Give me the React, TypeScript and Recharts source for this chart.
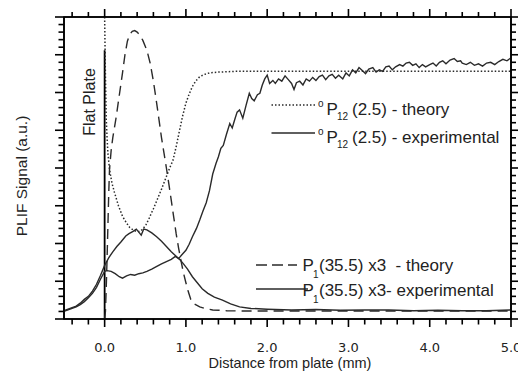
import React from 'react';
import { LineChart, Line, XAxis, YAxis, ReferenceLine, ReferenceArea } from 'recharts';

// ---------- data (x in mm, y in arbitrary units 0..40) ----------
const X_TICKS = [-0.4, -0.2, 0, 0.2, 0.4, 0.6, 0.8, 1, 1.2, 1.4, 1.6, 1.8, 2, 2.2, 2.4, 2.6, 2.8, 3, 3.2, 3.4, 3.6, 3.8, 4, 4.2, 4.4, 4.6, 4.8, 5];
const X_LABELS = ['0.0', '1.0', '2.0', '3.0', '4.0', '5.0'];
const Y_TICKS = [0, 1, 2, 3, 4, 5, 6, 7, 8, 9, 10, 11, 12, 13, 14, 15, 16, 17, 18, 19, 20, 21, 22, 23, 24, 25, 26, 27, 28, 29, 30, 31, 32, 33, 34, 35, 36, 37, 38, 39, 40];

const OP12_THEORY: [number, number][] = [
  [0, 40], [0.005, 36], [0.01, 32], [0.02, 26.5], [0.03, 24], [0.04, 22], [0.06, 19.8], [0.09, 18], [0.12, 16.8],
  [0.17, 15], [0.22, 13.6], [0.27, 12.7], [0.31, 12.1], [0.35, 11.8], [0.39, 11.6], [0.43, 11.6], [0.47, 11.9],
  [0.51, 12.5], [0.55, 13.4], [0.6, 14.6], [0.65, 15.9], [0.7, 17.2], [0.75, 18.6], [0.8, 20.0], [0.84, 21.0],
  [0.88, 22.8], [0.92, 24.9], [0.96, 26.9], [1.0, 28.6], [1.04, 29.8], [1.08, 30.8], [1.12, 31.5], [1.17, 32.1],
  [1.23, 32.4], [1.29, 32.6], [1.4, 32.7], [1.6, 32.8], [5.0, 32.8],
];

const OP12_EXP: [number, number][] = [
  [-0.5, 1.0], [-0.45, 1.2], [-0.4, 1.4], [-0.35, 1.6], [-0.3, 1.9], [-0.25, 2.3], [-0.2, 2.8], [-0.15, 3.4],
  [-0.1, 4.2], [-0.05, 5.3], [0, 6.3], [0.03, 6.4], [0.08, 6.3], [0.13, 6.0], [0.18, 5.6], [0.22, 5.4], [0.27, 5.7],
  [0.32, 5.9], [0.37, 5.8], [0.42, 6.0], [0.47, 6.1], [0.52, 6.3], [0.58, 6.6], [0.63, 6.9], [0.7, 7.3], [0.76, 7.6],
  [0.82, 7.9], [0.87, 8.3], [0.91, 8.0], [0.95, 8.5], [1.0, 9.1], [1.04, 9.9], [1.08, 10.9], [1.13, 12.0],
  [1.17, 13.1], [1.21, 14.3], [1.25, 15.4], [1.29, 17.0], [1.33, 19.2], [1.37, 20.6], [1.4, 21.5], [1.43, 22.6],
  [1.46, 23.0], [1.5, 24.5], [1.54, 25.9], [1.57, 25.3], [1.6, 26.4], [1.63, 27.4], [1.66, 27.7], [1.7, 26.6],
  [1.74, 28.3], [1.78, 29.9], [1.81, 29.2], [1.84, 28.9], [1.88, 29.7], [1.91, 29.9], [1.94, 31.0], [1.97, 31.8],
  [2.0, 32.3], [2.03, 31.2], [2.07, 31.6], [2.1, 31.2], [2.14, 31.8], [2.18, 31.5], [2.22, 32.2], [2.26, 31.7],
  [2.3, 31.2], [2.33, 30.4], [2.36, 31.3], [2.4, 31.5], [2.44, 31.0], [2.48, 31.8], [2.52, 31.5], [2.56, 32.0],
  [2.6, 31.6], [2.64, 32.1], [2.68, 32.3], [2.72, 31.7], [2.76, 32.2], [2.8, 32.4], [2.84, 31.9], [2.88, 32.3],
  [2.93, 31.8], [2.97, 32.6], [3.01, 32.2], [3.05, 33.0], [3.09, 32.6], [3.13, 33.3], [3.17, 32.9], [3.21, 32.5],
  [3.25, 33.1], [3.3, 33.3], [3.34, 32.7], [3.38, 33.0], [3.42, 32.8], [3.46, 33.4], [3.5, 33.5], [3.54, 33.0],
  [3.58, 33.4], [3.63, 33.7], [3.67, 33.5], [3.71, 33.9], [3.75, 34.0], [3.79, 33.6], [3.83, 33.8], [3.87, 33.3],
  [3.91, 33.7], [3.95, 33.4], [4.0, 33.7], [4.04, 33.9], [4.08, 33.5], [4.12, 34.0], [4.16, 34.2], [4.2, 33.8],
  [4.25, 34.3], [4.3, 34.5], [4.34, 34.1], [4.38, 34.2], [4.4, 33.9], [4.45, 33.7], [4.5, 34.0], [4.55, 33.6],
  [4.6, 33.8], [4.65, 33.5], [4.7, 33.9], [4.75, 34.0], [4.8, 33.7], [4.85, 34.1], [4.9, 34.4], [4.95, 34.2], [5.0, 34.6],
];

const P1_THEORY: [number, number][] = [
  [0, 0], [0.01, 1.0], [0.02, 4.2], [0.03, 8.0], [0.04, 12.2], [0.05, 16.5], [0.06, 19.8], [0.08, 22.3], [0.1, 24.0],
  [0.14, 26.6], [0.18, 29.6], [0.22, 32.6], [0.25, 35.0], [0.28, 36.8], [0.31, 37.7], [0.34, 38.1], [0.37, 38.2],
  [0.4, 38.0], [0.44, 37.5], [0.47, 36.9], [0.52, 35.6], [0.56, 33.9], [0.6, 31.5], [0.64, 28.6], [0.67, 26.3],
  [0.7, 24.0], [0.73, 22.0], [0.76, 20.0], [0.79, 17.9], [0.82, 15.7], [0.85, 13.5], [0.88, 11.3], [0.91, 9.4],
  [0.94, 7.7], [0.97, 6.1], [1.0, 4.8], [1.03, 3.6], [1.06, 2.6], [1.1, 2.0], [1.17, 1.6], [1.25, 1.35], [1.33, 1.2],
  [1.5, 1.1], [1.7, 1.05], [5.0, 1.05],
];

const P1_EXP: [number, number][] = [
  [-0.5, 1.1], [-0.45, 1.3], [-0.4, 1.5], [-0.35, 1.7], [-0.3, 2.1], [-0.25, 2.6], [-0.2, 3.0], [-0.15, 3.7],
  [-0.1, 4.6], [-0.05, 5.8], [0, 7.1], [0.05, 8.1], [0.1, 8.9], [0.15, 9.6], [0.2, 10.2], [0.26, 11.0], [0.3, 11.3],
  [0.35, 11.6], [0.39, 11.9], [0.42, 11.5], [0.45, 11.1], [0.48, 11.9], [0.52, 11.8], [0.58, 11.4], [0.64, 10.9],
  [0.7, 10.3], [0.76, 9.6], [0.82, 8.9], [0.88, 8.3], [0.93, 7.8], [0.97, 7.3], [1.02, 6.6], [1.08, 5.6], [1.14, 4.8],
  [1.2, 4.0], [1.27, 3.4], [1.35, 2.9], [1.45, 2.5], [1.55, 2.0], [1.66, 1.6], [1.8, 1.4], [2.0, 1.3], [2.3, 1.2],
  [2.6, 1.25], [2.9, 1.15], [3.2, 1.2], [3.5, 1.2], [3.8, 1.1], [4.1, 1.15], [4.4, 1.1], [4.7, 1.1], [5.0, 1.2],
];

const X_DOMAIN: [number, number] = [-0.5, 5];
const Y_DOMAIN: [number, number] = [0, 40];
const FLAT_PLATE_TOP = 35.6;

// ---------- layout ----------
const W = 518;
const H = 366;
const PL = 56;
const PR = 503;
const PT = 9;
const PB = 311;
const INK = '#000';
const LINE = '#2a2a2a';
const SANS = '"Liberation Sans", Arial, Helvetica, sans-serif';
const TICKFONT = '"DejaVu Sans", sans-serif';

const toRows = (arr: [number, number][]) => arr.map(([x, y]) => ({ x, y }));
const isMajor = (v: number, step: number) => Math.abs(v / step - Math.round(v / step)) < 1e-6;

const BottomTick = (props: any) => {
  const { x, payload } = props;
  const v = Number(payload?.value);
  const major = isMajor(v, 1);
  const label = major ? X_LABELS.find((l) => Math.abs(parseFloat(l) - v) < 1e-6) : undefined;
  return (
    <g>
      <path d={`M${x},${PB}V${PB + (major ? 8 : 5.5)}`} stroke={INK} strokeWidth={1.6} fill="none" />
      {label && (
        <text x={x} y={344} textAnchor="middle" fontFamily={TICKFONT} fontSize={13} fill="#222">
          {label}
        </text>
      )}
    </g>
  );
};

const TopTick = (props: any) => {
  const { x, payload } = props;
  const major = isMajor(Number(payload?.value), 1);
  return <path d={`M${x},${PT}V${PT - (major ? 8 : 5)}`} stroke={INK} strokeWidth={1.6} fill="none" />;
};

const LeftTick = (props: any) => {
  const { y, payload } = props;
  const major = isMajor(Number(payload?.value), 5);
  return <path d={`M${PL},${y}H${PL - (major ? 9 : 5.5)}`} stroke={INK} strokeWidth={1.6} fill="none" />;
};

const RightTick = (props: any) => {
  const { y, payload } = props;
  const major = isMajor(Number(payload?.value), 5);
  return <path d={`M${PR},${y}H${PR + (major ? 8 : 5)}`} stroke={INK} strokeWidth={1.6} fill="none" />;
};

const Sub = ({ x, y, children, size = 10 }: any) => (
  <text x={x} y={y} fontFamily={SANS} fontSize={size} fill="#222">
    {children}
  </text>
);

export default function App() {
  return (
    <div style={{ position: 'relative', width: W, height: H }}>
      {/* text layer, painted beneath the chart */}
      <svg width={W} height={H} style={{ position: 'absolute', left: 0, top: 0, pointerEvents: 'none' }}>
        <text transform="translate(18.7,168) rotate(-90)" textAnchor="middle" fontFamily={SANS} fontSize={15.5} fill="#222">
          PLIF Signal (a.u.)
        </text>
        <text transform="translate(87,94) rotate(-90)" textAnchor="middle" fontFamily={SANS} fontSize={16} fill="#222">
          Flat Plate
        </text>
        <text x={282} y={360} textAnchor="middle" fontFamily={SANS} fontSize={14.5} fill="#222">
          Distance from plate (mm)
        </text>

        {/* legend: oP12 theory */}
        <line x1={263.5} x2={307} y1={97} y2={97} stroke={LINE} strokeWidth={1.3} strokeDasharray="1.5 2" />
        <Sub x={310} y={99}>o</Sub>
        <Sub x={318.5} y={107} size={17}>P</Sub>
        <Sub x={329} y={112}>12</Sub>
        <Sub x={344} y={107} size={17}>(2.5) - theory</Sub>

        {/* legend: oP12 experimental */}
        <line x1={263.5} x2={307} y1={125} y2={125} stroke={LINE} strokeWidth={1.4} />
        <Sub x={310} y={127}>o</Sub>
        <Sub x={318.5} y={135} size={17}>P</Sub>
        <Sub x={329} y={140}>12</Sub>
        <Sub x={344} y={135} size={17}>(2.5) - experimental</Sub>

        {/* legend: P1 theory */}
        <line x1={248} x2={289} y1={257} y2={257} stroke={LINE} strokeWidth={1.4} strokeDasharray="11 5" />
        <Sub x={294.5} y={263} size={17}>P</Sub>
        <Sub x={305} y={270}>1</Sub>
        <text x={311} y={263} fontFamily={SANS} fontSize={17} fill="#222" style={{ whiteSpace: 'pre' }}>
          {'(35.5) x3  - theory'}
        </text>

        {/* legend: P1 experimental */}
        <line x1={248} x2={300} y1={281} y2={281} stroke={LINE} strokeWidth={1.4} />
        <Sub x={294.5} y={288} size={17}>P</Sub>
        <Sub x={305} y={295}>1</Sub>
        <Sub x={311} y={288} size={17}>(35.5) x3- experimental</Sub>
      </svg>

      <LineChart width={W} height={H} margin={{ top: 0, right: 0, bottom: 0, left: 0 }}>
        <XAxis
          xAxisId="bottom"
          type="number"
          dataKey="x"
          domain={X_DOMAIN}
          ticks={X_TICKS}
          interval={0}
          height={H - PB}
          tickLine={false}
          tick={BottomTick}
          axisLine={{ stroke: INK, strokeWidth: 1.6 }}
        />
        <XAxis
          xAxisId="top"
          orientation="top"
          type="number"
          dataKey="x"
          domain={X_DOMAIN}
          ticks={X_TICKS}
          interval={0}
          height={PT}
          tickLine={false}
          tick={TopTick}
          axisLine={{ stroke: INK, strokeWidth: 1.6 }}
        />
        <YAxis
          yAxisId="left"
          type="number"
          domain={Y_DOMAIN}
          ticks={Y_TICKS}
          interval={0}
          width={PL}
          tickLine={false}
          tick={LeftTick}
          axisLine={{ stroke: INK, strokeWidth: 1.6 }}
        />
        <YAxis
          yAxisId="right"
          orientation="right"
          type="number"
          domain={Y_DOMAIN}
          ticks={Y_TICKS}
          interval={0}
          width={W - PR}
          tickLine={false}
          tick={RightTick}
          axisLine={{ stroke: INK, strokeWidth: 1.6 }}
        />
        {/* invisible series so that the top and right frame axes are drawn */}
        <Line xAxisId="top" yAxisId="right" data={toRows(P1_EXP)} dataKey="y" dot={false} stroke="none" isAnimationActive={false} />
        {/* plot frame through the library scales */}
        <ReferenceArea
          xAxisId="bottom"
          yAxisId="left"
          x1={X_DOMAIN[0]}
          x2={X_DOMAIN[1]}
          y1={Y_DOMAIN[0]}
          y2={Y_DOMAIN[1]}
          fill="none"
          fillOpacity={0}
          stroke={INK}
          strokeWidth={1.6}
          ifOverflow="visible"
        />
        <ReferenceLine
          xAxisId="bottom"
          yAxisId="left"
          segment={[{ x: 0, y: 0 }, { x: 0, y: FLAT_PLATE_TOP }]}
          stroke={INK}
          strokeWidth={1.8}
        />
        <Line
          xAxisId="bottom"
          yAxisId="left"
          data={toRows(OP12_THEORY)}
          dataKey="y"
          type="linear"
          dot={false}
          stroke={LINE}
          strokeWidth={1.5}
          strokeDasharray="1.5 2"
          isAnimationActive={false}
        />
        <Line
          xAxisId="bottom"
          yAxisId="left"
          data={toRows(P1_THEORY)}
          dataKey="y"
          type="linear"
          dot={false}
          stroke={LINE}
          strokeWidth={1.4}
          strokeDasharray="10 6"
          isAnimationActive={false}
        />
        <Line
          xAxisId="bottom"
          yAxisId="left"
          data={toRows(P1_EXP)}
          dataKey="y"
          type="linear"
          dot={false}
          stroke={LINE}
          strokeWidth={1.4}
          isAnimationActive={false}
        />
        <Line
          xAxisId="bottom"
          yAxisId="left"
          data={toRows(OP12_EXP)}
          dataKey="y"
          type="linear"
          dot={false}
          stroke={LINE}
          strokeWidth={1.4}
          isAnimationActive={false}
        />
      </LineChart>
    </div>
  );
}
